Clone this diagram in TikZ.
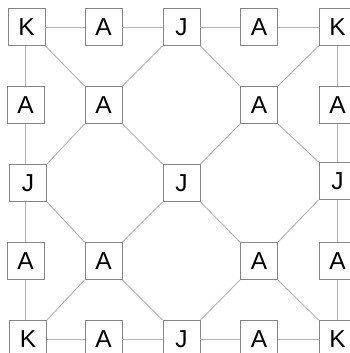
\documentclass[tikz,border=0pt]{standalone}
\usepackage{fontspec}
\setmainfont{Liberation Sans}
\definecolor{boxgray}{HTML}{858585}
\definecolor{linegray}{HTML}{B4B4B4}
\begin{document}
\begin{tikzpicture}[x=1pt,y=-1pt,
  cell/.style={draw=boxgray,line width=0.8pt,fill=white,minimum size=37pt,inner sep=0pt,
    font=\fontsize{24.5}{24.5}\selectfont},
  link/.style={draw=linegray,line width=0.9pt}]
\useasboundingbox (0,0) rectangle (350,353);
\clip (0,0) rectangle (350,353);
% grid positions
\def\ca{26.5}\def\cb{103.5}\def\cc{181.5}\def\cd{259}\def\ce{337.5}
\def\ra{27}\def\rb{105}\def\rc{183}\def\rd{261}\def\re{339}
% top row
\node[cell] (k11) at (\ca,\ra) {K};
\node[cell] (a12) at (\cb,\ra) {A};
\node[cell] (j13) at (\cc,\ra) {J};
\node[cell] (a14) at (\cd,\ra) {A};
\node[cell] (k15) at (\ce,\ra) {K};
% second row
\node[cell] (a21) at (\ca-1,\rb) {A};
\node[cell] (a22) at (\cb,\rb) {A};
\node[cell] (a24) at (\cd,\rb) {A};
\node[cell] (a25) at (\ce,\rb) {A};
% middle row
\node[cell] (j31) at (\ca+1.5,\rc) {J};
\node[cell] (j33) at (\cc,\rc) {J};
\node[cell] (j35) at (\ce,\rc-2) {J};
% fourth row
\node[cell] (a41) at (\ca-1,\rd) {A};
\node[cell] (a42) at (\cb,\rd) {A};
\node[cell] (a44) at (\cd,\rd) {A};
\node[cell] (a45) at (\ce,\rd) {A};
% bottom row
\node[cell] (k51) at (\ca+1.5,\re) {K};
\node[cell] (a52) at (\cb,\re) {A};
\node[cell] (j53) at (\cc,\re) {J};
\node[cell] (a54) at (\cd,\re) {A};
\node[cell] (k55) at (\ce,\re) {K};
% horizontal links
\draw[link] (k11) -- (a12); \draw[link] (a12) -- (j13);
\draw[link] (j13) -- (a14); \draw[link] (a14) -- (k15);
\draw[link] (k51) -- (a52); \draw[link] (a52) -- (j53);
\draw[link] (j53) -- (a54); \draw[link] (a54) -- (k55);
% vertical links
\draw[link] (k11.south -| a21) -- (a21); \draw[link] (a21) -- (a21 |- j31.north);
\draw[link] (a41 |- j31.south) -- (a41); \draw[link] (a41) -- (a41 |- k51.north);
\draw[link] (k15) -- (a25); \draw[link] (a25) -- (a25 |- j35.north);
\draw[link] (a45 |- j35.south) -- (a45); \draw[link] (a45) -- (k55);
% diagonal links
\draw[link] (k11.south east) -- (a22.north west);
\draw[link] (a22.north east) -- (j13.south west);
\draw[link] (j13.south east) -- (a24.north west);
\draw[link] (a24.north east) -- (k15.south west);
\draw[link] (j31.north east) -- (a22.south west);
\draw[link] (a22.south east) -- (j33.north west);
\draw[link] (j33.north east) -- (a24.south west);
\draw[link] (a24.south east) -- (j35.north west);
\draw[link] (j31.south east) -- (a42.north west);
\draw[link] (a42.north east) -- (j33.south west);
\draw[link] (j33.south east) -- (a44.north west);
\draw[link] (a44.north east) -- (j35.south west);
\draw[link] (a42.south west) -- (k51.north east);
\draw[link] (a42.south east) -- (j53.north west);
\draw[link] (j53.north east) -- (a44.south west);
\draw[link] (a44.south east) -- (k55.north west);
\end{tikzpicture}
\end{document}
